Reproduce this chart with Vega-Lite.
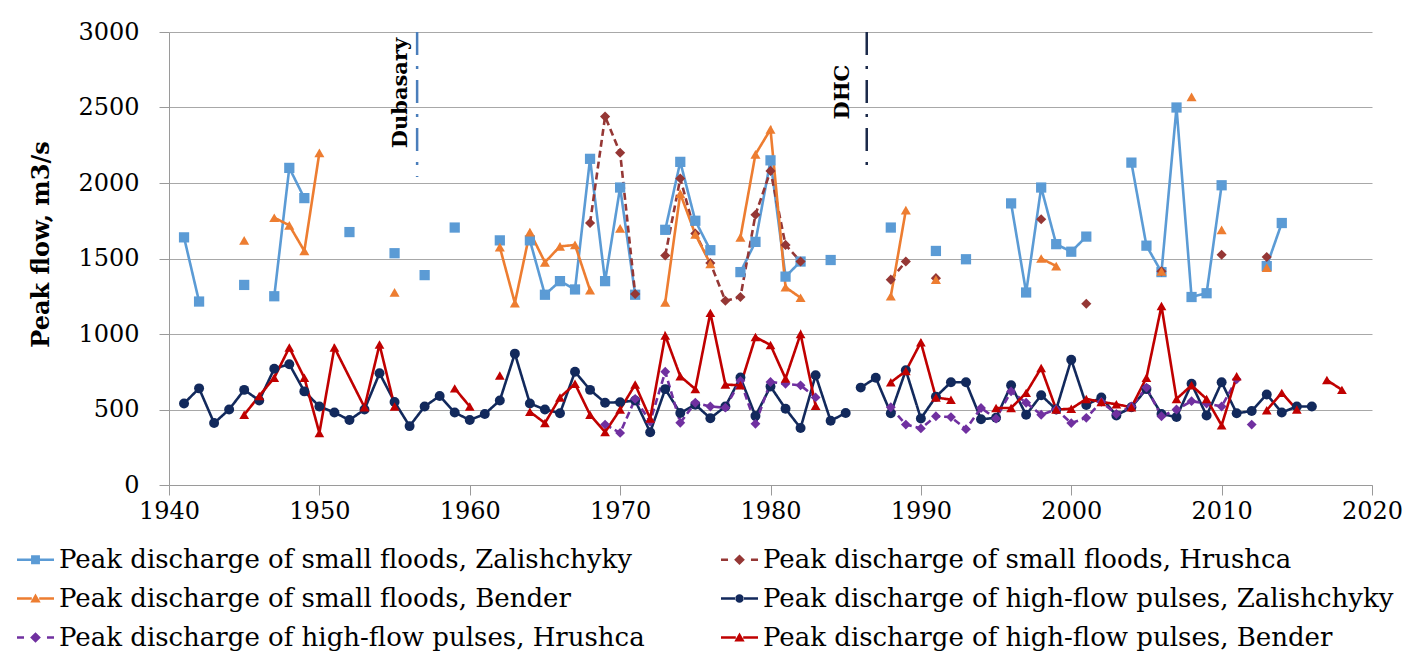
{
  "$schema": "https://vega.github.io/schema/vega-lite/v6.json",
  "width": 1203,
  "height": 453,
  "autosize": {"type": "none"},
  "padding": {"left": 169, "top": 32, "right": 39, "bottom": 166},
  "background": "white",
  "config": {
    "font": "DejaVu Serif",
    "view": {"stroke": null},
    "axis": {
      "labelFont": "DejaVu Serif",
      "labelFontSize": 24,
      "labelColor": "#000000",
      "titleFont": "DejaVu Serif",
      "titleColor": "#000000",
      "domainColor": "#9A9A9A",
      "tickColor": "#9A9A9A",
      "gridColor": "#A8A8A8",
      "domainWidth": 1,
      "tickWidth": 1,
      "gridWidth": 1
    }
  },
  "datasets": {
    "series": [
      {"k": "A", "name": "Peak discharge of small floods, Zalishchyky"},
      {"k": "B", "name": "Peak discharge of small floods, Hrushca"},
      {"k": "C", "name": "Peak discharge of small floods, Bender"},
      {"k": "D", "name": "Peak discharge of high-flow pulses, Zalishchyky"},
      {"k": "E", "name": "Peak discharge of high-flow pulses, Hrushca"},
      {"k": "F", "name": "Peak discharge of high-flow pulses, Bender"}
    ],
    "flow": [
      {"k": "A", "year": 1941, "v": 1640, "seg": 1},
      {"k": "A", "year": 1942, "v": 1215, "seg": 1},
      {"k": "A", "year": 1945, "v": 1325, "seg": 2},
      {"k": "A", "year": 1947, "v": 1250, "seg": 3},
      {"k": "A", "year": 1948, "v": 2100, "seg": 3},
      {"k": "A", "year": 1949, "v": 1900, "seg": 3},
      {"k": "A", "year": 1952, "v": 1675, "seg": 4},
      {"k": "A", "year": 1955, "v": 1535, "seg": 5},
      {"k": "A", "year": 1957, "v": 1390, "seg": 6},
      {"k": "A", "year": 1959, "v": 1705, "seg": 7},
      {"k": "A", "year": 1962, "v": 1620, "seg": 8},
      {"k": "A", "year": 1964, "v": 1620, "seg": 9},
      {"k": "A", "year": 1965, "v": 1260, "seg": 9},
      {"k": "A", "year": 1966, "v": 1350, "seg": 9},
      {"k": "A", "year": 1967, "v": 1295, "seg": 9},
      {"k": "A", "year": 1968, "v": 2160, "seg": 9},
      {"k": "A", "year": 1969, "v": 1350, "seg": 9},
      {"k": "A", "year": 1970, "v": 1970, "seg": 9},
      {"k": "A", "year": 1971, "v": 1260, "seg": 9},
      {"k": "A", "year": 1973, "v": 1690, "seg": 10},
      {"k": "A", "year": 1974, "v": 2140, "seg": 10},
      {"k": "A", "year": 1975, "v": 1750, "seg": 10},
      {"k": "A", "year": 1976, "v": 1555, "seg": 10},
      {"k": "A", "year": 1978, "v": 1410, "seg": 11},
      {"k": "A", "year": 1979, "v": 1610, "seg": 11},
      {"k": "A", "year": 1980, "v": 2150, "seg": 11},
      {"k": "A", "year": 1981, "v": 1380, "seg": 11},
      {"k": "A", "year": 1982, "v": 1480, "seg": 11},
      {"k": "A", "year": 1984, "v": 1490, "seg": 12},
      {"k": "A", "year": 1988, "v": 1705, "seg": 13},
      {"k": "A", "year": 1991, "v": 1550, "seg": 14},
      {"k": "A", "year": 1993, "v": 1495, "seg": 15},
      {"k": "A", "year": 1996, "v": 1865, "seg": 16},
      {"k": "A", "year": 1997, "v": 1275, "seg": 16},
      {"k": "A", "year": 1998, "v": 1970, "seg": 16},
      {"k": "A", "year": 1999, "v": 1595, "seg": 16},
      {"k": "A", "year": 2000, "v": 1545, "seg": 16},
      {"k": "A", "year": 2001, "v": 1645, "seg": 16},
      {"k": "A", "year": 2004, "v": 2135, "seg": 17},
      {"k": "A", "year": 2005, "v": 1585, "seg": 17},
      {"k": "A", "year": 2006, "v": 1410, "seg": 17},
      {"k": "A", "year": 2007, "v": 2500, "seg": 17},
      {"k": "A", "year": 2008, "v": 1245, "seg": 17},
      {"k": "A", "year": 2009, "v": 1270, "seg": 17},
      {"k": "A", "year": 2010, "v": 1985, "seg": 17},
      {"k": "A", "year": 2013, "v": 1450, "seg": 18},
      {"k": "A", "year": 2014, "v": 1735, "seg": 18},

      {"k": "B", "year": 1968, "v": 1735, "seg": 1},
      {"k": "B", "year": 1969, "v": 2440, "seg": 1},
      {"k": "B", "year": 1970, "v": 2200, "seg": 1},
      {"k": "B", "year": 1971, "v": 1265, "seg": 1},
      {"k": "B", "year": 1973, "v": 1520, "seg": 2},
      {"k": "B", "year": 1974, "v": 2030, "seg": 2},
      {"k": "B", "year": 1975, "v": 1665, "seg": 2},
      {"k": "B", "year": 1976, "v": 1470, "seg": 2},
      {"k": "B", "year": 1977, "v": 1220, "seg": 2},
      {"k": "B", "year": 1978, "v": 1245, "seg": 2},
      {"k": "B", "year": 1979, "v": 1790, "seg": 2},
      {"k": "B", "year": 1980, "v": 2080, "seg": 2},
      {"k": "B", "year": 1981, "v": 1590, "seg": 2},
      {"k": "B", "year": 1982, "v": 1480, "seg": 2},
      {"k": "B", "year": 1988, "v": 1360, "seg": 3},
      {"k": "B", "year": 1989, "v": 1480, "seg": 3},
      {"k": "B", "year": 1991, "v": 1370, "seg": 4},
      {"k": "B", "year": 1998, "v": 1760, "seg": 5},
      {"k": "B", "year": 2001, "v": 1200, "seg": 6},
      {"k": "B", "year": 2006, "v": 1415, "seg": 7},
      {"k": "B", "year": 2010, "v": 1525, "seg": 8},
      {"k": "B", "year": 2013, "v": 1510, "seg": 9},

      {"k": "C", "year": 1945, "v": 1620, "seg": 1},
      {"k": "C", "year": 1947, "v": 1770, "seg": 2},
      {"k": "C", "year": 1948, "v": 1720, "seg": 2},
      {"k": "C", "year": 1949, "v": 1550, "seg": 2},
      {"k": "C", "year": 1950, "v": 2200, "seg": 2},
      {"k": "C", "year": 1955, "v": 1275, "seg": 3},
      {"k": "C", "year": 1962, "v": 1575, "seg": 4},
      {"k": "C", "year": 1963, "v": 1205, "seg": 4},
      {"k": "C", "year": 1964, "v": 1675, "seg": 4},
      {"k": "C", "year": 1965, "v": 1475, "seg": 4},
      {"k": "C", "year": 1966, "v": 1580, "seg": 4},
      {"k": "C", "year": 1967, "v": 1590, "seg": 4},
      {"k": "C", "year": 1968, "v": 1290, "seg": 4},
      {"k": "C", "year": 1970, "v": 1700, "seg": 5},
      {"k": "C", "year": 1973, "v": 1210, "seg": 6},
      {"k": "C", "year": 1974, "v": 1930, "seg": 6},
      {"k": "C", "year": 1975, "v": 1660, "seg": 6},
      {"k": "C", "year": 1976, "v": 1465, "seg": 6},
      {"k": "C", "year": 1978, "v": 1640, "seg": 7},
      {"k": "C", "year": 1979, "v": 2190, "seg": 7},
      {"k": "C", "year": 1980, "v": 2355, "seg": 7},
      {"k": "C", "year": 1981, "v": 1310, "seg": 7},
      {"k": "C", "year": 1982, "v": 1240, "seg": 7},
      {"k": "C", "year": 1988, "v": 1250, "seg": 8},
      {"k": "C", "year": 1989, "v": 1820, "seg": 8},
      {"k": "C", "year": 1991, "v": 1360, "seg": 9},
      {"k": "C", "year": 1998, "v": 1500, "seg": 10},
      {"k": "C", "year": 1999, "v": 1450, "seg": 10},
      {"k": "C", "year": 2006, "v": 1415, "seg": 11},
      {"k": "C", "year": 2008, "v": 2570, "seg": 12},
      {"k": "C", "year": 2010, "v": 1690, "seg": 13},
      {"k": "C", "year": 2013, "v": 1440, "seg": 14},

      {"k": "D", "year": 1941, "v": 540, "seg": 1},
      {"k": "D", "year": 1942, "v": 640, "seg": 1},
      {"k": "D", "year": 1943, "v": 410, "seg": 1},
      {"k": "D", "year": 1944, "v": 500, "seg": 1},
      {"k": "D", "year": 1945, "v": 630, "seg": 1},
      {"k": "D", "year": 1946, "v": 560, "seg": 1},
      {"k": "D", "year": 1947, "v": 770, "seg": 1},
      {"k": "D", "year": 1948, "v": 800, "seg": 1},
      {"k": "D", "year": 1949, "v": 620, "seg": 1},
      {"k": "D", "year": 1950, "v": 520, "seg": 1},
      {"k": "D", "year": 1951, "v": 480, "seg": 1},
      {"k": "D", "year": 1952, "v": 430, "seg": 1},
      {"k": "D", "year": 1953, "v": 500, "seg": 1},
      {"k": "D", "year": 1954, "v": 740, "seg": 1},
      {"k": "D", "year": 1955, "v": 550, "seg": 1},
      {"k": "D", "year": 1956, "v": 390, "seg": 1},
      {"k": "D", "year": 1957, "v": 520, "seg": 1},
      {"k": "D", "year": 1958, "v": 590, "seg": 1},
      {"k": "D", "year": 1959, "v": 480, "seg": 1},
      {"k": "D", "year": 1960, "v": 430, "seg": 1},
      {"k": "D", "year": 1961, "v": 470, "seg": 1},
      {"k": "D", "year": 1962, "v": 560, "seg": 1},
      {"k": "D", "year": 1963, "v": 870, "seg": 1},
      {"k": "D", "year": 1964, "v": 540, "seg": 1},
      {"k": "D", "year": 1965, "v": 500, "seg": 1},
      {"k": "D", "year": 1966, "v": 475, "seg": 1},
      {"k": "D", "year": 1967, "v": 750, "seg": 1},
      {"k": "D", "year": 1968, "v": 630, "seg": 1},
      {"k": "D", "year": 1969, "v": 545, "seg": 1},
      {"k": "D", "year": 1970, "v": 548, "seg": 1},
      {"k": "D", "year": 1971, "v": 560, "seg": 1},
      {"k": "D", "year": 1972, "v": 350, "seg": 1},
      {"k": "D", "year": 1973, "v": 635, "seg": 1},
      {"k": "D", "year": 1974, "v": 477, "seg": 1},
      {"k": "D", "year": 1975, "v": 532, "seg": 1},
      {"k": "D", "year": 1976, "v": 442, "seg": 1},
      {"k": "D", "year": 1977, "v": 520, "seg": 1},
      {"k": "D", "year": 1978, "v": 712, "seg": 1},
      {"k": "D", "year": 1979, "v": 457, "seg": 1},
      {"k": "D", "year": 1980, "v": 652, "seg": 1},
      {"k": "D", "year": 1981, "v": 505, "seg": 1},
      {"k": "D", "year": 1982, "v": 377, "seg": 1},
      {"k": "D", "year": 1983, "v": 727, "seg": 1},
      {"k": "D", "year": 1984, "v": 425, "seg": 1},
      {"k": "D", "year": 1985, "v": 477, "seg": 1},
      {"k": "D", "year": 1986, "v": 645, "seg": 2},
      {"k": "D", "year": 1987, "v": 710, "seg": 2},
      {"k": "D", "year": 1988, "v": 475, "seg": 2},
      {"k": "D", "year": 1989, "v": 760, "seg": 2},
      {"k": "D", "year": 1990, "v": 440, "seg": 2},
      {"k": "D", "year": 1991, "v": 585, "seg": 2},
      {"k": "D", "year": 1992, "v": 680, "seg": 2},
      {"k": "D", "year": 1993, "v": 680, "seg": 2},
      {"k": "D", "year": 1994, "v": 435, "seg": 2},
      {"k": "D", "year": 1995, "v": 445, "seg": 2},
      {"k": "D", "year": 1996, "v": 660, "seg": 2},
      {"k": "D", "year": 1997, "v": 465, "seg": 2},
      {"k": "D", "year": 1998, "v": 595, "seg": 2},
      {"k": "D", "year": 1999, "v": 500, "seg": 2},
      {"k": "D", "year": 2000, "v": 830, "seg": 2},
      {"k": "D", "year": 2001, "v": 530, "seg": 2},
      {"k": "D", "year": 2002, "v": 580, "seg": 2},
      {"k": "D", "year": 2003, "v": 460, "seg": 2},
      {"k": "D", "year": 2004, "v": 515, "seg": 2},
      {"k": "D", "year": 2005, "v": 635, "seg": 2},
      {"k": "D", "year": 2006, "v": 470, "seg": 2},
      {"k": "D", "year": 2007, "v": 450, "seg": 2},
      {"k": "D", "year": 2008, "v": 670, "seg": 2},
      {"k": "D", "year": 2009, "v": 460, "seg": 2},
      {"k": "D", "year": 2010, "v": 680, "seg": 2},
      {"k": "D", "year": 2011, "v": 475, "seg": 2},
      {"k": "D", "year": 2012, "v": 490, "seg": 2},
      {"k": "D", "year": 2013, "v": 600, "seg": 2},
      {"k": "D", "year": 2014, "v": 480, "seg": 2},
      {"k": "D", "year": 2015, "v": 520, "seg": 2},
      {"k": "D", "year": 2016, "v": 520, "seg": 2},

      {"k": "E", "year": 1969, "v": 400, "seg": 1},
      {"k": "E", "year": 1970, "v": 345, "seg": 1},
      {"k": "E", "year": 1971, "v": 570, "seg": 1},
      {"k": "E", "year": 1972, "v": 420, "seg": 1},
      {"k": "E", "year": 1973, "v": 750, "seg": 1},
      {"k": "E", "year": 1974, "v": 412, "seg": 1},
      {"k": "E", "year": 1975, "v": 545, "seg": 1},
      {"k": "E", "year": 1976, "v": 520, "seg": 1},
      {"k": "E", "year": 1977, "v": 512, "seg": 1},
      {"k": "E", "year": 1978, "v": 690, "seg": 1},
      {"k": "E", "year": 1979, "v": 405, "seg": 1},
      {"k": "E", "year": 1980, "v": 682, "seg": 1},
      {"k": "E", "year": 1981, "v": 670, "seg": 1},
      {"k": "E", "year": 1982, "v": 660, "seg": 1},
      {"k": "E", "year": 1983, "v": 580, "seg": 1},
      {"k": "E", "year": 1988, "v": 515, "seg": 2},
      {"k": "E", "year": 1989, "v": 400, "seg": 2},
      {"k": "E", "year": 1990, "v": 375, "seg": 2},
      {"k": "E", "year": 1991, "v": 455, "seg": 2},
      {"k": "E", "year": 1992, "v": 450, "seg": 2},
      {"k": "E", "year": 1993, "v": 370, "seg": 2},
      {"k": "E", "year": 1994, "v": 510, "seg": 2},
      {"k": "E", "year": 1995, "v": 440, "seg": 2},
      {"k": "E", "year": 1996, "v": 620, "seg": 2},
      {"k": "E", "year": 1997, "v": 545, "seg": 2},
      {"k": "E", "year": 1998, "v": 465, "seg": 2},
      {"k": "E", "year": 1999, "v": 500, "seg": 2},
      {"k": "E", "year": 2000, "v": 410, "seg": 2},
      {"k": "E", "year": 2001, "v": 445, "seg": 2},
      {"k": "E", "year": 2002, "v": 550, "seg": 2},
      {"k": "E", "year": 2003, "v": 470, "seg": 2},
      {"k": "E", "year": 2004, "v": 520, "seg": 2},
      {"k": "E", "year": 2005, "v": 645, "seg": 2},
      {"k": "E", "year": 2006, "v": 455, "seg": 2},
      {"k": "E", "year": 2007, "v": 500, "seg": 2},
      {"k": "E", "year": 2008, "v": 555, "seg": 2},
      {"k": "E", "year": 2009, "v": 540, "seg": 2},
      {"k": "E", "year": 2010, "v": 520, "seg": 2},
      {"k": "E", "year": 2011, "v": 700, "seg": 2},
      {"k": "E", "year": 2012, "v": 400, "seg": 3},

      {"k": "F", "year": 1945, "v": 465, "seg": 1},
      {"k": "F", "year": 1946, "v": 590, "seg": 1},
      {"k": "F", "year": 1947, "v": 710, "seg": 1},
      {"k": "F", "year": 1948, "v": 910, "seg": 1},
      {"k": "F", "year": 1949, "v": 710, "seg": 1},
      {"k": "F", "year": 1950, "v": 345, "seg": 1},
      {"k": "F", "year": 1951, "v": 910, "seg": 1},
      {"k": "F", "year": 1953, "v": 515, "seg": 1},
      {"k": "F", "year": 1954, "v": 930, "seg": 1},
      {"k": "F", "year": 1955, "v": 520, "seg": 1},
      {"k": "F", "year": 1959, "v": 640, "seg": 2},
      {"k": "F", "year": 1960, "v": 520, "seg": 2},
      {"k": "F", "year": 1962, "v": 725, "seg": 3},
      {"k": "F", "year": 1964, "v": 485, "seg": 4},
      {"k": "F", "year": 1965, "v": 410, "seg": 4},
      {"k": "F", "year": 1966, "v": 580, "seg": 4},
      {"k": "F", "year": 1967, "v": 670, "seg": 4},
      {"k": "F", "year": 1968, "v": 465, "seg": 4},
      {"k": "F", "year": 1969, "v": 350, "seg": 4},
      {"k": "F", "year": 1970, "v": 500, "seg": 4},
      {"k": "F", "year": 1971, "v": 665, "seg": 4},
      {"k": "F", "year": 1972, "v": 440, "seg": 4},
      {"k": "F", "year": 1973, "v": 990, "seg": 4},
      {"k": "F", "year": 1974, "v": 720, "seg": 4},
      {"k": "F", "year": 1975, "v": 635, "seg": 4},
      {"k": "F", "year": 1976, "v": 1140, "seg": 4},
      {"k": "F", "year": 1977, "v": 665, "seg": 4},
      {"k": "F", "year": 1978, "v": 660, "seg": 4},
      {"k": "F", "year": 1979, "v": 980, "seg": 4},
      {"k": "F", "year": 1980, "v": 927, "seg": 4},
      {"k": "F", "year": 1981, "v": 705, "seg": 4},
      {"k": "F", "year": 1982, "v": 1000, "seg": 4},
      {"k": "F", "year": 1983, "v": 525, "seg": 4},
      {"k": "F", "year": 1988, "v": 680, "seg": 5},
      {"k": "F", "year": 1989, "v": 755, "seg": 5},
      {"k": "F", "year": 1990, "v": 945, "seg": 5},
      {"k": "F", "year": 1991, "v": 580, "seg": 5},
      {"k": "F", "year": 1992, "v": 565, "seg": 5},
      {"k": "F", "year": 1995, "v": 510, "seg": 6},
      {"k": "F", "year": 1996, "v": 510, "seg": 6},
      {"k": "F", "year": 1997, "v": 610, "seg": 6},
      {"k": "F", "year": 1998, "v": 775, "seg": 6},
      {"k": "F", "year": 1999, "v": 500, "seg": 6},
      {"k": "F", "year": 2000, "v": 505, "seg": 6},
      {"k": "F", "year": 2001, "v": 570, "seg": 6},
      {"k": "F", "year": 2002, "v": 550, "seg": 6},
      {"k": "F", "year": 2003, "v": 535, "seg": 6},
      {"k": "F", "year": 2004, "v": 515, "seg": 6},
      {"k": "F", "year": 2005, "v": 710, "seg": 6},
      {"k": "F", "year": 2006, "v": 1185, "seg": 6},
      {"k": "F", "year": 2007, "v": 570, "seg": 6},
      {"k": "F", "year": 2008, "v": 660, "seg": 6},
      {"k": "F", "year": 2009, "v": 570, "seg": 6},
      {"k": "F", "year": 2010, "v": 395, "seg": 6},
      {"k": "F", "year": 2011, "v": 720, "seg": 6},
      {"k": "F", "year": 2013, "v": 495, "seg": 7},
      {"k": "F", "year": 2014, "v": 610, "seg": 7},
      {"k": "F", "year": 2015, "v": 500, "seg": 7},
      {"k": "F", "year": 2017, "v": 695, "seg": 8},
      {"k": "F", "year": 2018, "v": 630, "seg": 8}
    ]
  },
  "encoding": {
    "x": {
      "field": "year",
      "type": "quantitative",
      "scale": {"domain": [1940, 2020], "nice": false, "zero": false},
      "axis": {
        "title": null,
        "values": [1940, 1950, 1960, 1970, 1980, 1990, 2000, 2010, 2020],
        "format": "d",
        "grid": false,
        "tickSize": 10,
        "labelPadding": 4,
        "labelFlush": false,
        "labelOverlap": false
      }
    },
    "y": {
      "field": "v",
      "type": "quantitative",
      "scale": {"domain": [0, 3000], "nice": false},
      "axis": {
        "title": "Peak flow, m3/s",
        "titleFontSize": 24,
        "titleFontWeight": "bold",
        "titlePadding": 24,
        "titleY": 212,
        "values": [0, 500, 1000, 1500, 2000, 2500, 3000],
        "format": "d",
        "grid": true,
        "tickSize": 10,
        "labelPadding": 20,
        "labelOverlap": false
      }
    }
  },
  "layer": [
    {
      "data": {"values": [{"year": 1956.5, "v": 3000, "v2": 2040}]},
      "mark": {"type": "rule", "color": "#4A7EBB", "strokeWidth": 2.5, "strokeDash": [23, 11, 3, 11]},
      "encoding": {"y2": {"field": "v2"}}
    },
    {
      "data": {"values": [{"year": 1986.4, "v": 3000, "v2": 2075}]},
      "mark": {"type": "rule", "color": "#1B2A4A", "strokeWidth": 2.5, "strokeDash": [23, 11, 3, 11]},
      "encoding": {"y2": {"field": "v2"}}
    },
    {
      "data": {"values": [{"label": "Dubasary", "year": 1955.4, "v": 2596}, {"label": "DHC", "year": 1984.8, "v": 2602}]},
      "mark": {"type": "text", "angle": 270, "align": "center", "baseline": "middle", "font": "DejaVu Serif", "fontWeight": "bold", "fontSize": 21, "color": "#000000"},
      "encoding": {"text": {"field": "label"}}
    },
    {
      "data": {"name": "flow"},
      "mark": {"type": "line", "strokeWidth": 2.6},
      "encoding": {
        "color": {
          "field": "k", "type": "nominal",
          "scale": {"domain": ["A", "B", "C", "D", "E", "F"], "range": ["#5B9BD5", "#953735", "#ED7D31", "#12295C", "#7030A0", "#C00000"]},
          "legend": null
        },
        "strokeDash": {
          "field": "k", "type": "nominal",
          "scale": {"domain": ["A", "B", "C", "D", "E", "F"], "range": [[1, 0], [7, 4], [1, 0], [1, 0], [7, 4], [1, 0]]},
          "legend": null
        },
        "detail": {"field": "seg", "type": "nominal"}
      }
    },
    {
      "data": {"name": "flow"},
      "mark": {"type": "point", "filled": true, "opacity": 1},
      "encoding": {
        "color": {
          "field": "k", "type": "nominal",
          "scale": {"domain": ["A", "B", "C", "D", "E", "F"], "range": ["#5B9BD5", "#953735", "#ED7D31", "#12295C", "#7030A0", "#C00000"]},
          "legend": null
        },
        "shape": {
          "field": "k", "type": "nominal",
          "scale": {"domain": ["A", "B", "C", "D", "E", "F"], "range": ["square", "diamond", "triangle-up", "circle", "diamond", "triangle-up"]},
          "legend": null
        },
        "size": {
          "field": "k", "type": "nominal",
          "scale": {"domain": ["A", "B", "C", "D", "E", "F"], "range": [105, 95, 110, 75, 90, 115]},
          "legend": null
        }
      }
    },
    {
      "data": {"name": "series"},
      "transform": [{"filter": "false"}],
      "mark": {"type": "point", "filled": true},
      "encoding": {
        "color": {
          "field": "name", "type": "nominal",
          "scale": {
            "domain": ["Peak discharge of small floods, Zalishchyky", "Peak discharge of small floods, Bender", "Peak discharge of high-flow pulses, Hrushca", "Peak discharge of small floods, Hrushca", "Peak discharge of high-flow pulses, Zalishchyky", "Peak discharge of high-flow pulses, Bender"],
            "range": ["#5B9BD5", "#ED7D31", "#7030A0", "#953735", "#12295C", "#C00000"]
          },
          "legend": {
            "title": null, "orient": "none", "legendX": -152, "legendY": 509, "columns": 2,
            "symbolSize": 1369, "symbolStrokeWidth": 0, "symbolOpacity": 1,
            "labelFont": "DejaVu Serif", "labelFontSize": 26, "labelColor": "#000000", "labelLimit": 0,
            "labelOffset": 5, "rowPadding": 7, "columnPadding": 76
          }
        },
        "shape": {
          "field": "name", "type": "nominal",
          "scale": {
            "domain": ["Peak discharge of small floods, Zalishchyky", "Peak discharge of small floods, Bender", "Peak discharge of high-flow pulses, Hrushca", "Peak discharge of small floods, Hrushca", "Peak discharge of high-flow pulses, Zalishchyky", "Peak discharge of high-flow pulses, Bender"],
            "range": [
              "M-1,-0.07H-0.2V0.07H-1Z M0.2,-0.07H1V0.07H0.2Z M-0.24,-0.24H0.24V0.24H-0.24Z",
              "M-1,-0.07H-0.2V0.07H-1Z M0.2,-0.07H1V0.07H0.2Z M0,-0.27L0.28,0.21L-0.28,0.21Z",
              "M-1,-0.07H-0.62V0.07H-1Z M0.62,-0.07H1V0.07H0.62Z M0,-0.29L0.29,0L0,0.29L-0.29,0Z",
              "M-1,-0.07H-0.62V0.07H-1Z M0.62,-0.07H1V0.07H0.62Z M0,-0.29L0.29,0L0,0.29L-0.29,0Z",
              "M-1,-0.07H-0.2V0.07H-1Z M0.2,-0.07H1V0.07H0.2Z M-0.23,0A0.23,0.23 0 1,0 0.23,0A0.23,0.23 0 1,0 -0.23,0Z",
              "M-1,-0.07H-0.2V0.07H-1Z M0.2,-0.07H1V0.07H0.2Z M0,-0.27L0.28,0.21L-0.28,0.21Z"
            ]
          },
          "legend": {
            "title": null, "orient": "none", "legendX": -152, "legendY": 509, "columns": 2,
            "symbolSize": 1369, "symbolStrokeWidth": 0, "symbolOpacity": 1,
            "labelFont": "DejaVu Serif", "labelFontSize": 26, "labelColor": "#000000", "labelLimit": 0,
            "labelOffset": 5, "rowPadding": 7, "columnPadding": 76
          }
        }
      }
    }
  ],
  "resolve": {"scale": {"color": "independent", "shape": "independent", "strokeDash": "independent", "size": "independent"}}
}
